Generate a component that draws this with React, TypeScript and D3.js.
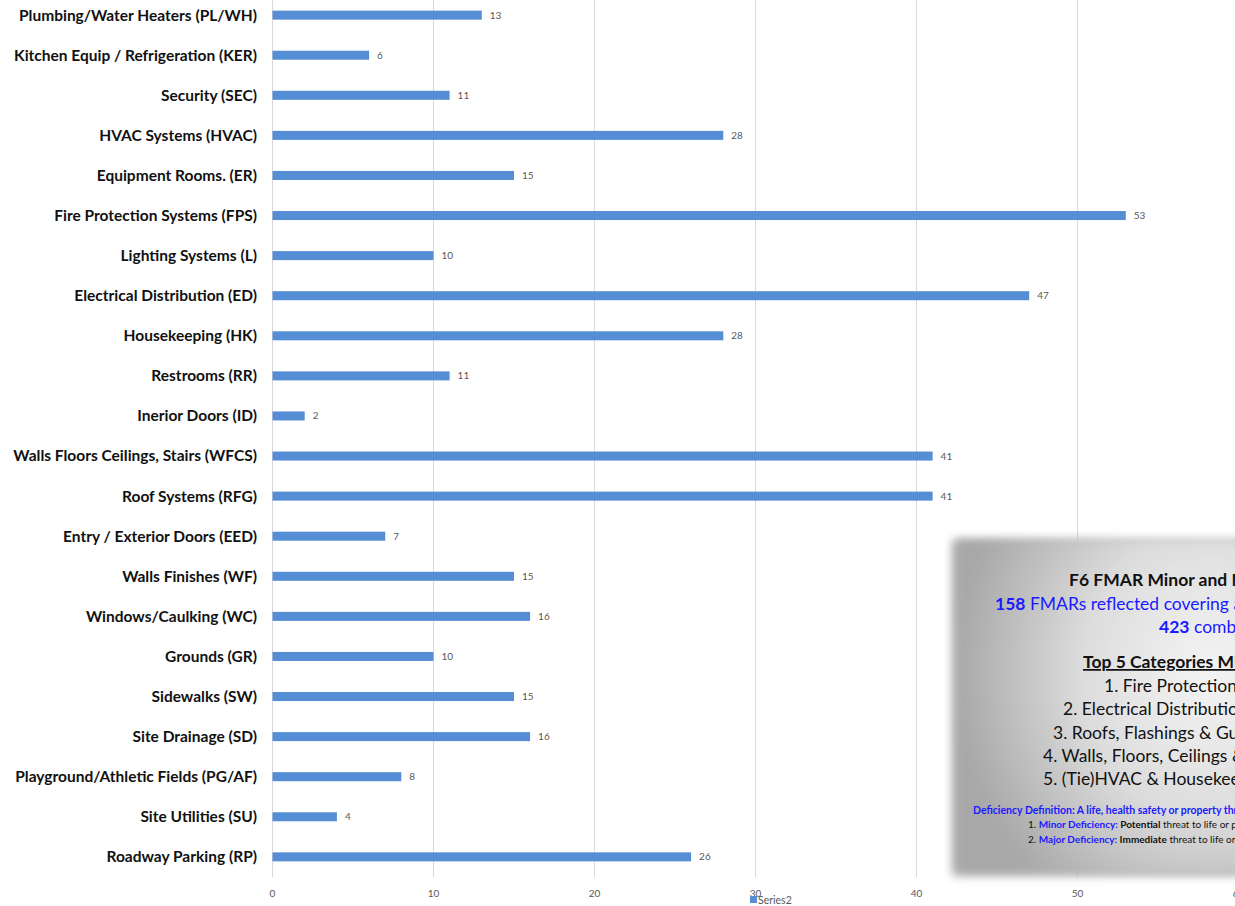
import * as d3 from "d3";
import React from "react";

const categories = [
  "Plumbing/Water Heaters (PL/WH)",
  "Kitchen Equip / Refrigeration (KER)",
  "Security (SEC)",
  "HVAC Systems (HVAC)",
  "Equipment Rooms. (ER)",
  "Fire Protection Systems (FPS)",
  "Lighting Systems (L)",
  "Electrical Distribution (ED)",
  "Housekeeping (HK)",
  "Restrooms (RR)",
  "Inerior Doors (ID)",
  "Walls Floors Ceilings, Stairs (WFCS)",
  "Roof Systems (RFG)",
  "Entry / Exterior Doors (EED)",
  "Walls Finishes (WF)",
  "Windows/Caulking (WC)",
  "Grounds (GR)",
  "Sidewalks (SW)",
  "Site Drainage (SD)",
  "Playground/Athletic Fields (PG/AF)",
  "Site Utilities (SU)",
  "Roadway Parking (RP)",
];
const series2 = [13, 6, 11, 28, 15, 53, 10, 47, 28, 11, 2, 41, 41, 7, 15, 16, 10, 15, 16, 8, 4, 26];
const xTicks = [0, 10, 20, 30, 40, 50, 60];
const seriesName = "Series2";

const topFive = [
  "1. Fire Protection Systems",
  "2.  Electrical Distribution",
  "3. Roofs, Flashings & Gutters",
  "4. Walls, Floors, Ceilings & Stairs",
  "5. (Tie)HVAC & Housekeeping",
];

const W = 1235;
const H = 906;
const font = "Lato, 'Open Sans', sans-serif";

const App = () => {
  const x = d3.scaleLinear().domain([0, 60]).range([272.5, 1238.5]);
  const y = d3
    .scaleBand()
    .domain(categories)
    .range([-5, 877])
    .paddingInner(0.775)
    .paddingOuter(0.39);

  const bandTop = -5;
  const axisY = 877;
  const topX = [1104, 1063, 1053, 1043, 1043];

  return (
    <svg
      width={W}
      height={H}
      style={{ position: "absolute", left: 0, top: 0, background: "#fff" }}
      fontFamily={font}
    >
      <defs>
        <radialGradient id="boxGrad" cx="0.85" cy="0.4" r="0.85">
          <stop offset="0" stopColor="#f4f4f4" />
          <stop offset="0.5" stopColor="#dddddd" />
          <stop offset="1" stopColor="#a8a8a8" />
        </radialGradient>
        <filter id="soft" x="-10%" y="-10%" width="120%" height="120%">
          <feGaussianBlur stdDeviation="5" />
        </filter>
      </defs>

      {/* gridlines */}
      {xTicks.map((t) => (
        <line
          key={t}
          x1={x(t)}
          x2={x(t)}
          y1={bandTop}
          y2={axisY}
          stroke="#d9d9d9"
          strokeWidth={1}
        />
      ))}

      {/* bars */}
      {categories.map((c, i) => (
        <g key={c}>
          <rect
            x={x(0)}
            y={y(c)}
            width={x(series2[i]) - x(0)}
            height={y.bandwidth()}
            fill="#558ed5"
          />
          <text
            x={x(series2[i]) + 8}
            y={(y(c) as number) + y.bandwidth() / 2}
            dy="0.35em"
            fontSize={10}
            fill="#595959"
          >
            {series2[i]}
          </text>
          <text
            x={257}
            y={(y(c) as number) + y.bandwidth() / 2}
            dy="0.35em"
            textAnchor="end"
            fontSize={15.5}
            fontWeight="bold"
            fill="#111"
          >
            {c}
          </text>
        </g>
      ))}

      {/* x tick labels */}
      {xTicks.map((t) => (
        <text
          key={"l" + t}
          x={x(t)}
          y={897}
          textAnchor="middle"
          fontSize={10}
          fill="#595959"
        >
          {t}
        </text>
      ))}

      {/* legend */}
      <rect x={750} y={896} width={7} height={7} fill="#558ed5" />
      <text x={758} y={904} fontSize={10.5} fill="#595959">
        {seriesName}
      </text>

      {/* text box */}
      <rect
        x={952}
        y={540}
        width={320}
        height={336}
        fill="#999"
        filter="url(#soft)"
        opacity={0.7}
      />
      <rect x={956} y={540} width={300} height={332} fill="url(#boxGrad)" filter="url(#soft)" />
      <g fill="#111">
        <text x={1069} y={586} fontSize={17.5} fontWeight="bold">
          F6 FMAR Minor and Major Deficiencies
        </text>
        <text x={995} y={610} fontSize={17.5} fill="#1a1aff">
          <tspan fontWeight="bold">158</tspan> FMARs reflected covering all sites
        </text>
        <text x={1159} y={633} fontSize={17.5} fill="#1a1aff">
          <tspan fontWeight="bold">423</tspan> combined deficiencies
        </text>
        <text x={1083} y={668} fontSize={17.5} fontWeight="bold" textDecoration="underline">
          Top 5 Categories Minor/Major
        </text>
        {topFive.map((t, i) => (
          <text key={t} x={topX[i]} y={692 + i * 23.3} fontSize={17.5}>
            {t}
          </text>
        ))}
        <text x={973} y={814} fontSize={10.5} fontWeight="bold" fill="#1a1aff">
          Deficiency Definition: A life, health safety or property threat
        </text>
        <text x={1028} y={828} fontSize={10}>
          1.{"  "}
          <tspan fontWeight="bold" fill="#1a1aff">Minor Deficiency:</tspan>
          <tspan fontWeight="bold"> Potential</tspan> threat to life or property
        </text>
        <text x={1028} y={843} fontSize={10}>
          2.{"  "}
          <tspan fontWeight="bold" fill="#1a1aff">Major Deficiency:</tspan>
          <tspan fontWeight="bold"> Immediate</tspan> threat to life or property
        </text>
      </g>
    </svg>
  );
};

export default App;
